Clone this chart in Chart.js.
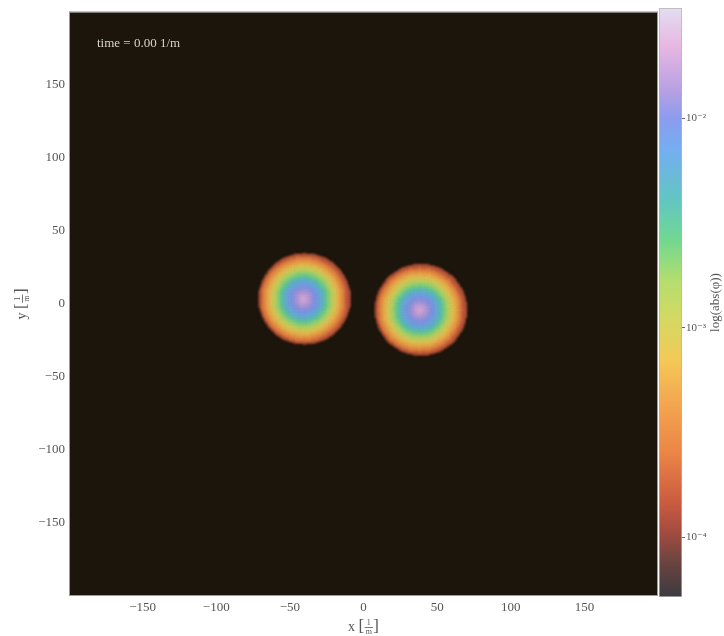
<!DOCTYPE html>
<html>
<head>
<meta charset="utf-8">
<script src="https://cdn.jsdelivr.net/npm/chart.js@4/dist/chart.umd.min.js"></script>
<style>
  html, body { margin: 0; padding: 0; background: #ffffff; }
  #wrap { position: relative; width: 724px; height: 636px; }
  #main { position: absolute; left: 0; top: 0; }
  #cbar { position: absolute; left: 658px; top: 0; }
</style>
</head>
<body>
<div id="wrap">
  <canvas id="main" width="724" height="636"></canvas>
  <canvas id="cbar" width="66" height="636"></canvas>
</div>
<script>
// ---------------- data ----------------
const blobCenterX = [-40, 39];
const blobCenterY = [3.5, -4];
const blobCutoffRadius = 30.5;
const profileRadius = [0, 2, 4, 6, 8, 10, 12, 14, 16, 18, 20, 22, 24, 26, 28, 30];
const profileAbsPhi = [2.1e-2, 1.85e-2, 1.5e-2, 1.2e-2, 1.0e-2, 7.9e-3, 6.0e-3, 4.2e-3,
                       2.8e-3, 1.9e-3, 1.3e-3, 8.9e-4, 6.0e-4, 4.0e-4, 2.5e-4, 1.35e-4];
const xTickValues = [-150, -100, -50, 0, 50, 100, 150];
const yTickValues = [-150, -100, -50, 0, 50, 100, 150];
const cbarTickValues = [1e-4, 1e-3, 1e-2];
const cbarTickLabels = ['10\u207B\u2074', '10\u207B\u00B3', '10\u207B\u00B2'];
const cbarMin = 5.2e-5;
const cbarMax = 3.35e-2;
const timeLabel = 'time = 0.00 1/m';
const xAxisLetter = 'x';
const yAxisLetter = 'y';
const cbarTitle = 'log(abs(\u03C6))';

// colormap stops (log10 value -> colour) sampled from the colour bar
const cmapLog = [-4.287, -4.115, -3.971, -3.828, -3.589, -3.349, -3.158, -2.967, -2.775,
                 -2.584, -2.392, -2.153, -2.0, -1.866, -1.651, -1.474];
const cmapColor = ['#3c3a40', '#6c4440', '#a44c40', '#cc5c40', '#ec8646', '#f4a850', '#f4c858',
                   '#d6d862', '#b4de6e', '#72d890', '#62c6c2', '#74aef0', '#8c9cee', '#b8a0e2',
                   '#e8b8e2', '#e2def2'];

// ---------------- helpers ----------------
const SERIF = "'Liberation Serif', 'DejaVu Serif', serif";
function hexToRgb(h) { return [parseInt(h.slice(1,3),16), parseInt(h.slice(3,5),16), parseInt(h.slice(5,7),16)]; }
const cmapRgb = cmapColor.map(hexToRgb);
function colorFor(v) {
  const lv = Math.log10(v);
  if (lv <= cmapLog[0]) return cmapColor[0];
  for (let i = 1; i < cmapLog.length; i++) {
    if (lv <= cmapLog[i]) {
      const t = (lv - cmapLog[i-1]) / (cmapLog[i] - cmapLog[i-1]);
      const a = cmapRgb[i-1], b = cmapRgb[i];
      return 'rgb(' + a.map((c, k) => Math.round(c + (b[k]-c)*t)).join(',') + ')';
    }
  }
  return cmapColor[cmapColor.length-1];
}
function fmtTick(v) { return v < 0 ? '\u2212' + Math.abs(v) : String(v); }

// cells of the field: value from the read radial profile of the nearest blob
const cells = [];
for (let gx = -200; gx <= 200; gx++) {
  for (let gy = -200; gy <= 200; gy++) {
    let best = Infinity;
    for (let b = 0; b < blobCenterX.length; b++) {
      const d = Math.hypot(gx - blobCenterX[b], gy - blobCenterY[b]);
      if (d < best) best = d;
    }
    if (best <= blobCutoffRadius) {
      let idx = 0, bd = Infinity;
      for (let i = 0; i < profileRadius.length; i++) {
        const dd = Math.abs(profileRadius[i] - best);
        if (dd < bd) { bd = dd; idx = i; }
      }
      cells.push({ x: gx, y: gy, v: profileAbsPhi[idx] });
    }
  }
}

function drawUnitLabel(ctx, letter) {
  // draws "letter [1/m]" centred on (0,0)
  ctx.save();
  ctx.fillStyle = '#555555';
  ctx.strokeStyle = '#555555';
  ctx.textBaseline = 'middle';
  ctx.textAlign = 'left';
  const mainFont = '14px ' + SERIF, brFont = '17px ' + SERIF, smallFont = '8px ' + SERIF;
  ctx.font = mainFont; const wL = ctx.measureText(letter + ' ').width;
  ctx.font = brFont; const wB = ctx.measureText('[').width;
  ctx.font = smallFont; const wF = Math.max(ctx.measureText('1').width, ctx.measureText('m').width) + 2;
  const total = wL + wB + wF + 1 + wB;
  let x = -total / 2;
  ctx.font = mainFont; ctx.fillText(letter, x, 0); x += wL;
  ctx.font = brFont; ctx.fillText('[', x, 0); x += wB;
  ctx.font = smallFont; ctx.textAlign = 'center';
  ctx.fillText('1', x + wF/2 + 0.5, -4.5);
  ctx.fillText('m', x + wF/2 + 0.5, 5);
  ctx.lineWidth = 0.8;
  ctx.beginPath(); ctx.moveTo(x + 0.5, 0.5); ctx.lineTo(x + wF + 0.5, 0.5); ctx.stroke();
  x += wF + 1;
  ctx.textAlign = 'left'; ctx.font = brFont; ctx.fillText(']', x, 0);
  ctx.restore();
}

const fieldPlugin = {
  id: 'field',
  beforeDatasetsDraw(chart) {
    const { ctx, chartArea: a } = chart;
    ctx.save();
    ctx.fillStyle = '#1b150b';
    ctx.fillRect(a.left, a.top, a.right - a.left, a.bottom - a.top);
    ctx.restore();
    ctx.save();
    ctx.filter = 'blur(1.4px)';
  },
  afterDatasetsDraw(chart) {
    chart.ctx.restore();
  },
  afterDraw(chart) {
    const { ctx, chartArea: a } = chart;
    ctx.save();
    ctx.fillStyle = '#d6d4cc';
    ctx.font = '13px ' + SERIF;
    ctx.textBaseline = 'middle';
    ctx.fillText(timeLabel, a.left + 28, a.top + 32);
    ctx.strokeStyle = '#9a9a9a';
    ctx.lineWidth = 1;
    ctx.strokeRect(a.left + 0.5, a.top + 0.5, a.right - a.left - 1, a.bottom - a.top - 1);
    ctx.restore();
    ctx.save();
    ctx.translate((a.left + a.right) / 2, 627);
    drawUnitLabel(ctx, xAxisLetter);
    ctx.restore();
    ctx.save();
    ctx.translate(22, (a.top + a.bottom) / 2);
    ctx.rotate(-Math.PI / 2);
    drawUnitLabel(ctx, yAxisLetter);
    ctx.restore();
  }
};

const tickFont = { family: SERIF, size: 13 };

new Chart(document.getElementById('main'), {
  type: 'scatter',
  data: {
    datasets: [{
      data: cells,
      pointStyle: 'rect',
      pointRadius: 1.7,
      pointHoverRadius: 1.7,
      borderWidth: 0,
      backgroundColor: (c) => c.raw ? colorFor(c.raw.v) : '#000'
    }]
  },
  options: {
    responsive: false,
    animation: false,
    events: [],
    layout: { padding: { top: 8, right: 66, left: 0, bottom: 0 } },
    plugins: { legend: { display: false }, tooltip: { enabled: false } },
    scales: {
      x: {
        type: 'linear', min: -200, max: 200,
        afterBuildTicks: (s) => { s.ticks = xTickValues.map(v => ({ value: v })); },
        afterFit: (s) => { s.height = 40; },
        grid: { display: false, drawTicks: false, tickLength: 0 },
        border: { display: false },
        ticks: { callback: fmtTick, font: tickFont, color: '#555555', padding: 4, maxRotation: 0, autoSkip: false }
      },
      y: {
        type: 'linear', min: -200, max: 200,
        afterBuildTicks: (s) => { s.ticks = yTickValues.map(v => ({ value: v })); },
        afterFit: (s) => { s.width = 69; },
        grid: { display: false, drawTicks: false, tickLength: 0 },
        border: { display: false },
        ticks: { callback: fmtTick, font: tickFont, color: '#555555', padding: 4, autoSkip: false }
      }
    }
  },
  plugins: [fieldPlugin]
});

// ---------------- colour bar ----------------
const cbarTitlePlugin = {
  id: 'cbarTitle',
  afterDraw(chart) {
    const { ctx, chartArea: a } = chart;
    ctx.save();
    ctx.translate(57.5, (a.top + a.bottom) / 2);
    ctx.rotate(-Math.PI / 2);
    ctx.fillStyle = '#555555';
    ctx.font = '13px ' + SERIF;
    ctx.textAlign = 'center';
    ctx.textBaseline = 'middle';
    ctx.fillText(cbarTitle, 0, 0);
    ctx.restore();
  }
};

new Chart(document.getElementById('cbar'), {
  type: 'bar',
  data: {
    labels: ['cbar'],
    datasets: [{
      data: [[cbarMin, cbarMax]],
      barPercentage: 1,
      categoryPercentage: 1,
      borderWidth: 1,
      borderColor: '#b4b4b4',
      borderSkipped: false,
      backgroundColor: (c) => {
        const chart = c.chart;
        const a = chart.chartArea;
        if (!a) return '#888';
        const ys = chart.scales.y;
        const g = chart.ctx.createLinearGradient(0, a.bottom, 0, a.top);
        const h = a.top - a.bottom;
        cmapLog.forEach((lv, i) => {
          let p = (ys.getPixelForValue(Math.pow(10, lv)) - a.bottom) / h;
          p = Math.min(1, Math.max(0, p));
          g.addColorStop(p, cmapColor[i]);
        });
        return g;
      }
    }]
  },
  options: {
    responsive: false,
    animation: false,
    events: [],
    layout: { padding: { top: 8, bottom: 39, left: 1, right: 0 } },
    plugins: { legend: { display: false }, tooltip: { enabled: false } },
    scales: {
      x: { display: false },
      y: {
        type: 'logarithmic', position: 'right', min: cbarMin, max: cbarMax,
        afterBuildTicks: (s) => { s.ticks = cbarTickValues.map(v => ({ value: v })); },
        afterFit: (s) => { s.width = 42; },
        grid: { drawOnChartArea: false, drawTicks: true, tickLength: 3, color: '#666666' },
        border: { display: false },
        ticks: {
          callback: (v) => { const i = cbarTickValues.indexOf(v); return i >= 0 ? cbarTickLabels[i] : ''; },
          font: { family: SERIF, size: 11 }, color: '#555555', padding: 1, autoSkip: false
        }
      }
    }
  },
  plugins: [cbarTitlePlugin]
});
</script>
</body>
</html>
